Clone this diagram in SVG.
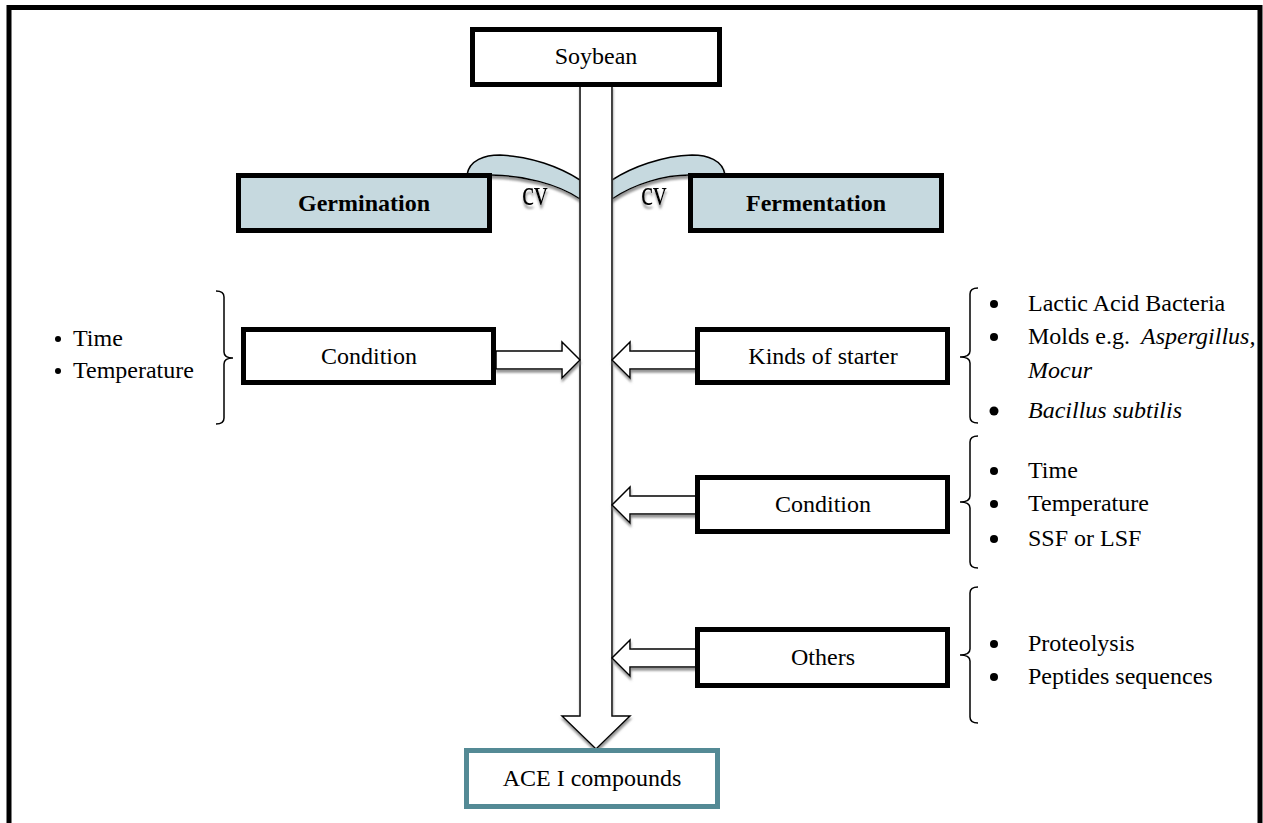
<svg xmlns="http://www.w3.org/2000/svg" width="1263" height="823" viewBox="0 0 1263 823">
<defs>
<style>
text{font-family:"Liberation Serif","Times New Roman",serif;font-size:24px;fill:#000}
.c{text-anchor:middle}
.b{font-weight:bold}
.i{font-style:italic}
.box{fill:#fff;stroke:#000;stroke-width:5}
.blue{fill:#c6d9df}
.arr{fill:#fff;stroke:#000;stroke-width:1.5;filter:url(#sh)}
.band{fill:#c6d9df;stroke:#000;stroke-width:1.5;filter:url(#sh)}
.br{fill:none;stroke:#000;stroke-width:1.5}
.cv{font-size:27px;filter:url(#sh)}
</style>
<filter id="sh" x="-20%" y="-20%" width="150%" height="150%">
<feDropShadow dx="0.5" dy="3" stdDeviation="1" flood-color="#7a7a7a" flood-opacity="0.8"/>
</filter>
</defs>
<rect width="1263" height="823" fill="#fff"/>
<path d="M9,830 V7.5 H1260 V830" fill="none" stroke="#000" stroke-width="5"/>

<g id="connectors">
<path class="band" d="M467,175 C469,160 485,155 500,155 C530,156 560,167 580,180 L580,199 C558,184 522,175 490,175 Z"/>
<path class="band" d="M725,175 C723,160 707,155 692,155 C662,156 632,167 612,180 L612,199 C634,184 664,175 690,175 Z"/>
<polygon class="arr" points="580,86 612,86 612,716 630,716 596,749 562,716 580,716"/>
<polygon class="arr" points="496,351 562,351 562,342 580,360 562,378 562,369 496,369"/>
<polygon class="arr" points="697,351 630,351 630,342 612,360 630,378 630,369 697,369"/>
<polygon class="arr" points="697,496 630,496 630,487 612,505 630,523 630,514 697,514"/>
<polygon class="arr" points="697,649 630,649 630,640 612,658 630,676 630,667 697,667"/>
<text class="cv" transform="translate(522,205) scale(1,1.3)">cv</text>
<text class="cv" transform="translate(641,205) scale(1,1.3)">cv</text>
</g>

<g id="soybean">
<rect class="box" x="472.5" y="29.5" width="247" height="55"/>
<text class="c" x="596" y="64">Soybean</text>
</g>

<g id="germination">
<rect class="box blue" x="238.5" y="175.5" width="251" height="55"/>
<text class="c b" x="364" y="211">Germination</text>
</g>

<g id="fermentation">
<rect class="box blue" x="690.5" y="175.5" width="251" height="55"/>
<text class="c b" x="816" y="211">Fermentation</text>
</g>

<g id="germ-condition">
<rect class="box" x="243.5" y="329.5" width="250" height="53"/>
<text class="c" x="369" y="364">Condition</text>
</g>

<g id="germ-condition-list">
<path class="br" d="M216,291 Q224,291 224,297 V352 Q224,358 233,358 Q224,358 224,364 V418 Q224,424 216,424"/>
<circle cx="58" cy="339" r="3"/>
<text x="73" y="346">Time</text>
<circle cx="58" cy="371" r="3"/>
<text x="73" y="378">Temperature</text>
</g>

<g id="kinds-of-starter">
<rect class="box" x="697.5" y="329.5" width="250" height="53"/>
<text class="c" x="823" y="364">Kinds of starter</text>
</g>

<g id="starter-list">
<path class="br" d="M978,288 Q970,288 970,294 V351 Q970,357 960,357 Q970,357 970,363 V417 Q970,423 978,423"/>
<circle cx="994" cy="304" r="4"/>
<text x="1028" y="311">Lactic Acid Bacteria</text>
<circle cx="994" cy="337" r="4"/>
<text x="1028" y="344">Molds e.g. <tspan class="i" dx="5">Aspergillus,</tspan></text>
<text class="i" x="1028" y="378">Mocur</text>
<circle cx="994" cy="411" r="4.5"/>
<text class="i" x="1028" y="418">Bacillus subtilis</text>
</g>

<g id="ferm-condition">
<rect class="box" x="697.5" y="477.5" width="250" height="54"/>
<text class="c" x="823" y="512">Condition</text>
</g>

<g id="ferm-condition-list">
<path class="br" d="M978,436 Q970,436 970,442 V496 Q970,502 960,502 Q970,502 970,508 V562 Q970,568 978,568"/>
<circle cx="994" cy="471" r="4"/>
<text x="1028" y="478">Time</text>
<circle cx="994" cy="504" r="4"/>
<text x="1028" y="511">Temperature</text>
<circle cx="994" cy="539" r="4"/>
<text x="1028" y="546">SSF or LSF</text>
</g>

<g id="others">
<rect class="box" x="697.5" y="629.5" width="250" height="56"/>
<text class="c" x="823" y="665">Others</text>
</g>

<g id="others-list">
<path class="br" d="M978,587 Q970,587 970,593 V649 Q970,655 960,655 Q970,655 970,661 V717 Q970,723 978,723"/>
<circle cx="994" cy="644" r="4"/>
<text x="1028" y="651">Proteolysis</text>
<circle cx="994" cy="677" r="4"/>
<text x="1028" y="684">Peptides sequences</text>
</g>

<g id="ace">
<rect x="466.5" y="750.5" width="251" height="56" fill="#fff" stroke="#548a95" stroke-width="5"/>
<text class="c" x="592" y="786">ACE I compounds</text>
</g>
</svg>
